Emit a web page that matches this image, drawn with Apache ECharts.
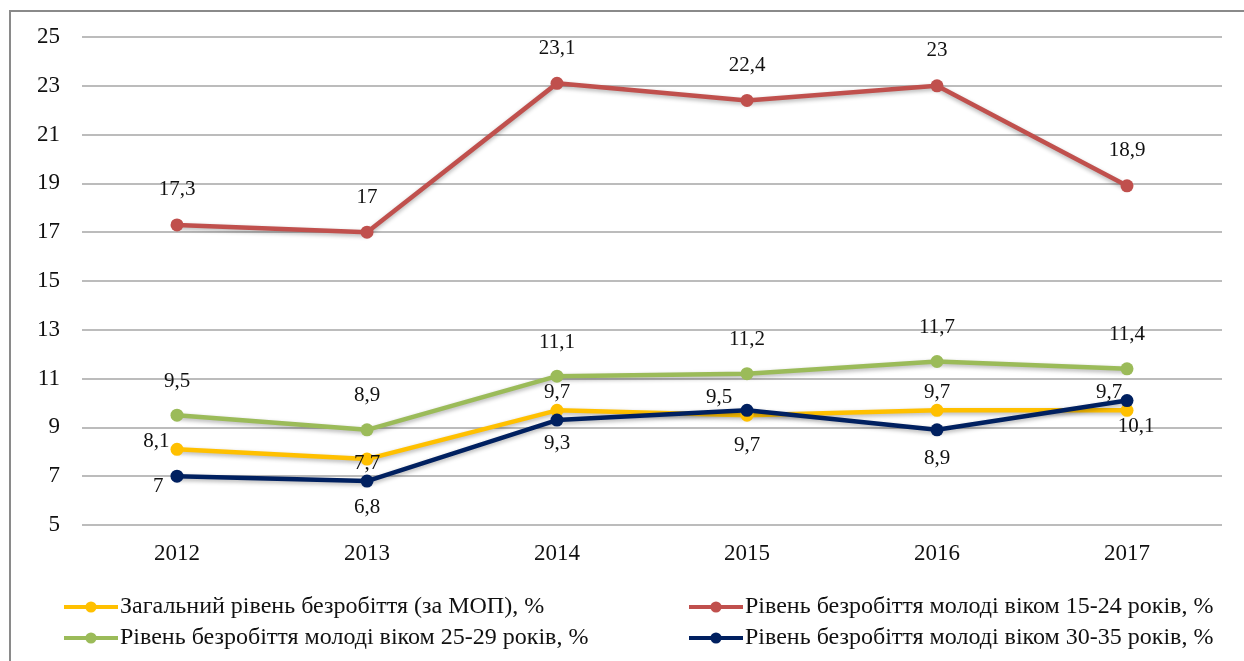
<!DOCTYPE html>
<html>
<head>
<meta charset="utf-8">
<script src="https://cdn.jsdelivr.net/npm/echarts@6/dist/echarts.min.js"></script>
<style>
html,body{margin:0;padding:0;background:#fff;}
#chart{width:1244px;height:661px;}
</style>
</head>
<body>
<div id="chart"></div>
<script>
var categories = ['2012', '2013', '2014', '2015', '2016', '2017'];
var seriesNames = [
  'Загальний рівень безробіття (за МОП), %',
  'Рівень безробіття молоді віком 15-24 років, %',
  'Рівень безробіття молоді віком 25-29 років, %',
  'Рівень безробіття молоді віком 30-35 років, %'
];
var generalRate = [8.1, 7.7, 9.7, 9.5, 9.7, 9.7];
var youth15_24 = [17.3, 17, 23.1, 22.4, 23, 18.9];
var youth25_29 = [9.5, 8.9, 11.1, 11.2, 11.7, 11.4];
var youth30_35 = [7, 6.8, 9.3, 9.7, 8.9, 10.1];
var yTicks = { min: 5, max: 25, interval: 2 };

// label placement (style only)
var yellowLabelPos = [
  { position: 'left', offset: [0, -8] },
  { position: 'bottom', offset: [0, -14] },
  { position: 'top', offset: [0, 0] },
  { position: 'top', offset: [-28, 0] },
  { position: 'top', offset: [0, 0] },
  { position: 'top', offset: [-18, 0] }
];
var navyLabelPos = [
  { position: 'left', offset: [-2, 10] },
  { position: 'bottom', offset: [0, 4] },
  { position: 'bottom', offset: [0, 1] },
  { position: 'bottom', offset: [0, 13] },
  { position: 'bottom', offset: [0, 7] },
  { position: 'bottom', offset: [9, 4] }
];
// legend slots: [seriesIndex, iconLeft, rowCenterY]
var legendSlots = [[0, 62, 607], [1, 687, 607], [2, 62, 638], [3, 687, 638]];

var FONT = '"Liberation Serif", "Times New Roman", serif';
function fmt(v) { return String(v).replace('.', ','); }

function withLabels(values, layout) {
  return values.map(function (v, i) {
    var item = { value: v };
    if (layout) item.label = layout[i];
    return item;
  });
}

function mkSeries(name, color, values, layout, dist) {
  return {
    name: name,
    type: 'line',
    data: withLabels(values, layout),
    symbol: 'circle',
    symbolSize: 13,
    itemStyle: { color: color },
    lineStyle: { color: color, width: 4.5, shadowBlur: 4, shadowColor: 'rgba(0,0,0,0.3)', shadowOffsetY: 2 },
    label: {
      show: true,
      position: 'top',
      distance: dist,
      fontFamily: FONT,
      fontSize: 21,
      color: '#111',
      formatter: function (p) { return fmt(p.value); }
    },
    emphasis: { disabled: true },
    animation: false
  };
}

var ICON_W = 54, ICON_H = 14;
var legends = legendSlots.map(function (s) {
  return {
    data: [seriesNames[s[0]]],
    left: s[1],
    top: s[2] - ICON_H / 2,
    padding: 0,
    itemWidth: ICON_W, itemHeight: ICON_H,
    lineStyle: { width: 4 },
    formatter: function () { return ''; },
    textStyle: { fontSize: 1 }
  };
});
var legendTexts = legendSlots.map(function (s) {
  return {
    type: 'text',
    x: s[1] + ICON_W + 4,
    y: s[2],
    silent: true,
    style: {
      text: seriesNames[s[0]],
      fontFamily: FONT,
      fontSize: 24,
      fill: '#111',
      align: 'left',
      verticalAlign: 'middle'
    }
  };
});

var chart = echarts.init(document.getElementById('chart'));
chart.setOption({
  backgroundColor: '#fff',
  animation: false,
  textStyle: { fontFamily: FONT },
  graphic: [{
    type: 'rect',
    shape: { x: 10, y: 11, width: 1300, height: 700 },
    style: { fill: 'none', stroke: '#8a8a8a', lineWidth: 2 },
    silent: true
  }].concat(legendTexts),
  grid: { left: 82, right: 22, top: 37, bottom: 136, containLabel: false },
  legend: legends,
  xAxis: {
    type: 'category',
    data: categories,
    boundaryGap: true,
    axisLine: { show: false },
    axisTick: { show: false },
    axisLabel: { fontFamily: FONT, fontSize: 23, color: '#111', margin: 17 }
  },
  yAxis: {
    type: 'value',
    min: yTicks.min, max: yTicks.max, interval: yTicks.interval,
    axisLine: { show: false },
    axisTick: { show: false },
    axisLabel: { fontFamily: FONT, fontSize: 23, color: '#111', margin: 22 },
    splitLine: { lineStyle: { color: '#a6a6a6', width: 1.5 } }
  },
  series: [
    mkSeries(seriesNames[0], '#FFC000', generalRate, yellowLabelPos, 1),
    mkSeries(seriesNames[1], '#C0504D', youth15_24, null, 18),
    mkSeries(seriesNames[2], '#9BBB59', youth25_29, null, 17),
    mkSeries(seriesNames[3], '#002060', youth30_35, navyLabelPos, 5)
  ]
});
</script>
</body>
</html>
